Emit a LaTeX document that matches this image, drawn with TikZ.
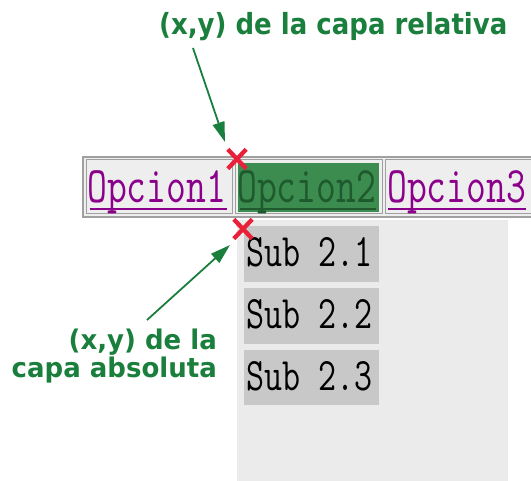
\documentclass[tikz,border=0pt]{standalone}
\usepackage{fontspec}
\usepackage{graphicx}
\usetikzlibrary{arrows.meta,shapes.misc,calc}
\newfontfamily\labf{DejaVu Sans}
\definecolor{menubg}{HTML}{EEEEEE}
\definecolor{absbg}{HTML}{EBEBEB}
\definecolor{bordg}{HTML}{A0A0A0}
\definecolor{cellgreen}{HTML}{3C8C50}
\definecolor{darkgreen}{HTML}{1E5A2D}
\definecolor{linkpurple}{HTML}{8B008B}
\definecolor{subgray}{HTML}{C8C8C8}
\definecolor{labgreen}{HTML}{1A7F3C}
\definecolor{xred}{HTML}{E8203A}
\tikzset{
  menutext/.style={inner sep=0pt, anchor=base west, font=\ttfamily\fontsize{38.5}{38.5}\selectfont},
  subtext/.style={inner sep=0pt, anchor=base west, font=\ttfamily\fontsize{35}{35}\selectfont},
  labtext/.style={inner sep=0pt, text=labgreen, font=\labf\bfseries\fontsize{26}{26}\selectfont},
  xmark/.style={cross out, draw=xred, line width=4.3pt, minimum width=14pt, minimum height=15pt, inner sep=0pt},
  garrow/.style={draw=labgreen, line width=1.8pt, -{Triangle[length=20pt,width=12pt]}},
  uline/.style={line width=1.6pt}
}
\newcommand{\vs}[1]{\scalebox{1}[1.33]{#1}}
\newcommand{\vl}[1]{\scalebox{1}[1.12]{#1}}
\newcommand{\vm}[1]{\scalebox{1}[1.04]{#1}}
\begin{document}
\begin{tikzpicture}[x=1pt,y=-1pt]
\path[use as bounding box] (0,0) rectangle (531,481);
\clip (0,0) rectangle (531,481);
% menu bar
\draw[bordg, line width=1.5pt, fill=menubg] (83,157) rectangle (560,217);
\draw[bordg, line width=1pt] (86,160) rectangle (232,214);
\draw[bordg, line width=1pt] (235,160) rectangle (382,214);
\draw[bordg, line width=1pt] (385,160) rectangle (560,214);
\fill[cellgreen] (238,163) rectangle (379,212);
% absolute layer
\fill[absbg] (237,220) rectangle (508,481);
\fill[subgray] (244,226) rectangle (379,282);
\fill[subgray] (244,288) rectangle (379,344);
\fill[subgray] (244,350) rectangle (379,405);
% menu texts
\node[menutext, text=linkpurple] (o1) at (87,203) {\vs{Opcion1}};
\node[menutext, text=darkgreen] (o2) at (237,203) {\vs{Opcion2}};
\node[menutext, text=linkpurple] (o3) at (387,203) {\vs{Opcion3}};
\draw[uline, linkpurple] ($(o1.base west)+(3,6)$) -- ($(o1.base east)+(1,6)$);
\draw[uline, darkgreen] ($(o2.base west)+(3,6)$) -- ($(o2.base east)+(0,6)$);
\draw[uline, linkpurple] ($(o3.base west)+(1,6)$) -- ($(o3.base east)+(0,6)$);
% sub texts
\node[subtext] (s1) at (246,267) {\vs{Sub 2.1}};
\node[subtext] (s2) at (246,329) {\vs{Sub 2.2}};
\node[subtext] (s3) at (246,391) {\vs{Sub 2.3}};
% x marks
\node[xmark] (x1) at (237,159) {};
\node[xmark] (x2) at (243,229) {};
% labels
\node[labtext, anchor=base west] (t1) at (159,35) {\vl{(x,y) de la capa relativa}};
\node[labtext, anchor=base east] (t2a) at (217,350) {\vm{(x,y) de la}};
\node[labtext, anchor=base east] (t2b) at (217,378) {\vm{capa absoluta}};
% arrows
\coordinate (a1s) at (193,48);
\coordinate (a1e) at (225,142);
\coordinate (a2s) at (147,320);
\coordinate (a2e) at (230,245);
\draw[garrow] (a1s) -- (a1e);
\draw[garrow] (a2s) -- (a2e);
\end{tikzpicture}
\end{document}
